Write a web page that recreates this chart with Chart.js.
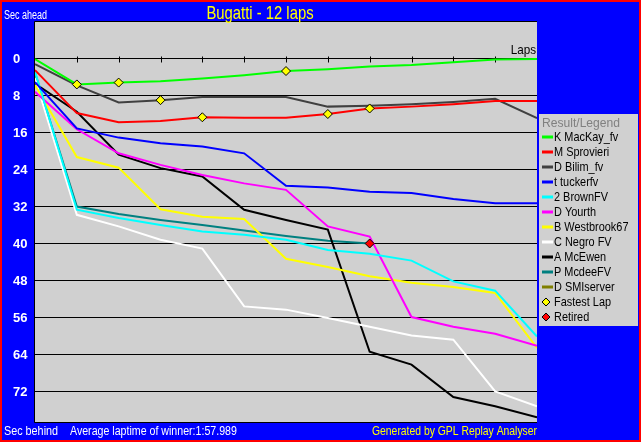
<!DOCTYPE html>
<html>
<head>
<meta charset="utf-8">
<script src="https://cdn.jsdelivr.net/npm/chart.js"></script>
<style>
html, body { margin: 0; padding: 0; background: #0000ff; }
canvas { display: block; }
</style>
</head>
<body>
<canvas id="grafico" width="641" height="442"></canvas>
<script>
// lap numbers on the x axis
const laps = [0, 1, 2, 3, 4, 5, 6, 7, 8, 9, 10, 11, 12];
const yTicks = [0, 8, 16, 24, 32, 40, 48, 56, 64, 72];

const drivers = ["K MacKay_fv", "M Sprovieri", "D Bilim_fv", "t tuckerfv", "2 BrownFV", "D Yourth",
                 "B Westbrook67", "C Negro FV", "A McEwen", "P McdeeFV", "D SMIserver"];
const colores = ["#00ff00", "#ff0000", "#404040", "#0000ff", "#00ffff", "#ff00ff",
                 "#ffff00", "#ffffff", "#000000", "#008080", "#808000"];

// seconds behind the leader, lap by lap
const mackay    = [0, 5.5, 5.1, 4.8, 4.2, 3.5, 2.6, 2.2, 1.6, 1.3, 0.7, 0.1, 0];
const sprovieri = [2.4, 11.7, 13.7, 13.4, 12.6, 12.7, 12.7, 11.9, 10.7, 10.3, 9.8, 9.1, 9.1];
const bilim     = [1.1, 5.7, 9.4, 8.9, 8.2, 8.2, 8.2, 10.3, 10.1, 9.8, 9.3, 8.6, 12.8];
const tucker    = [5.0, 15.0, 17.0, 18.2, 18.9, 20.4, 27.4, 27.8, 28.7, 29.0, 30.3, 31.2, 31.2];
const brown     = [2.7, 32.6, 34.4, 35.9, 37.3, 38.0, 39.1, 41.3, 42.1, 43.6, 48.1, 50.1, 60.0];
const yourth    = [7.1, 15.2, 20.4, 22.9, 25.1, 26.9, 28.3, 36.2, 38.4, 55.8, 57.9, 59.4, 62.0];
const westbrook = [5.6, 21.2, 23.5, 32.5, 34.1, 34.6, 43.2, 45.0, 47.0, 48.4, 49.3, 50.6, 62.5];
const negro     = [4.2, 33.7, 36.2, 39.1, 41.0, 53.5, 54.2, 56.0, 57.9, 59.8, 60.7, 71.9, 75.1];
const mcewen    = [5.3, 11.4, 20.7, 23.6, 25.4, 32.6, 34.8, 36.9, 63.3, 66.1, 73.1, 75.1, 77.5];
const mcdee     = [3.0, 31.9, 33.5, 34.8, 35.9, 37.1, 38.3, 39.3, 39.9];
const smiserver = [];

const fastestLaps  = [1, 2, 3, 4, 6, 7, 8];
const fastestTimes = [5.5, 5.1, 8.9, 12.6, 2.6, 11.9, 10.7];
const retiredLaps  = [8];
const retiredTimes = [39.9];

const series = [mackay, sprovieri, bilim, tucker, brown, yourth, westbrook, negro, mcewen, mcdee, smiserver];

const FAMILY = '"Liberation Sans", Arial, sans-serif';

const puntos = (xs, ys) => ys.map((v, i) => ({ x: xs[i], y: v }));

// text squeezed horizontally (the original uses a narrow bitmap font)
function texto(ctx, t, x, y, size, sx, align) {
    ctx.save();
    ctx.font = size + "px " + FAMILY;
    ctx.textBaseline = "middle";
    ctx.textAlign = align || "left";
    ctx.translate(x, y);
    ctx.scale(sx, 1);
    ctx.fillText(t, 0, 0);
    ctx.restore();
}

const datasets = [
    {
        label: "Fastest Lap", data: puntos(fastestLaps, fastestTimes), showLine: false,
        pointStyle: "rectRot", pointRadius: 4.5, backgroundColor: "#ffff00", borderColor: "#000000", pointBorderWidth: 1
    },
    {
        label: "Retired", data: puntos(retiredLaps, retiredTimes), showLine: false,
        pointStyle: "rectRot", pointRadius: 4.5, backgroundColor: "#ff0000", borderColor: "#000000", pointBorderWidth: 1
    }
];
drivers.forEach((d, i) => {
    datasets.push({
        label: d, data: puntos(laps, series[i]), borderColor: colores[i], borderWidth: 2,
        pointRadius: 0, fill: false, tension: 0
    });
});

const fondo = {
    id: "fondo",
    beforeDraw(chart) {
        const ctx = chart.ctx, a = chart.chartArea;
        ctx.save();
        ctx.fillStyle = "#ff0000";
        ctx.fillRect(0, 0, chart.width, chart.height);
        ctx.fillStyle = "#0000ff";
        ctx.fillRect(2, 2, chart.width - 4, chart.height - 4);
        ctx.fillStyle = "#d0d0d0";
        ctx.fillRect(a.left, a.top, a.right - a.left, a.bottom - a.top);
        ctx.restore();
    },
    beforeDatasetsDraw(chart) {
        const ctx = chart.ctx, a = chart.chartArea;
        const x = chart.scales.x, y = chart.scales.y;
        const y0 = Math.round(y.getPixelForValue(0)) + 0.5;
        ctx.save();
        ctx.strokeStyle = "#000000";
        ctx.lineWidth = 1;
        ctx.beginPath();
        laps.slice(1, -1).forEach(l => {
            const px = Math.round(x.getPixelForValue(l)) + 0.5;
            ctx.moveTo(px, y0 - 3);
            ctx.lineTo(px, y0 + 3);
        });
        ctx.stroke();
        ctx.fillStyle = "#000000";
        texto(ctx, "Laps", a.right - 1, y0 - 9, 13, 0.9, "right");
        ctx.restore();
    },
    afterDraw(chart) {
        const ctx = chart.ctx, a = chart.chartArea;
        ctx.save();
        // plot frame
        ctx.strokeStyle = "#000000";
        ctx.lineWidth = 1;
        ctx.beginPath();
        ctx.moveTo(a.right, a.top - 0.5);
        ctx.lineTo(a.left - 0.5, a.top - 0.5);
        ctx.lineTo(a.left - 0.5, a.bottom + 0.5);
        ctx.lineTo(a.right, a.bottom + 0.5);
        ctx.stroke();

        // texts
        ctx.fillStyle = "#ffff00";
        texto(ctx, "Bugatti - 12 laps", 260, 14, 19, 0.78, "center");
        ctx.fillStyle = "#ffffff";
        texto(ctx, "Sec ahead", 4, 16, 12, 0.75);
        texto(ctx, "Sec behind", 4, 432, 12, 0.9);
        texto(ctx, "Average laptime of winner:1:57.989", 70, 432, 12, 0.885);
        ctx.fillStyle = "#ffff00";
        texto(ctx, "Generated by GPL Replay Analyser", 372, 432, 12, 0.865);

        // legend
        ctx.fillStyle = "#d0d0d0";
        ctx.fillRect(539, 114, 99, 212);
        ctx.fillStyle = "#808080";
        texto(ctx, "Result/Legend", 542, 123, 13, 0.93);
        let yy = 137;
        drivers.forEach((d, i) => {
            ctx.strokeStyle = colores[i];
            ctx.lineWidth = 3;
            ctx.beginPath();
            ctx.moveTo(542, yy);
            ctx.lineTo(553, yy);
            ctx.stroke();
            ctx.fillStyle = "#000000";
            texto(ctx, d, 554, yy, 13, 0.84);
            yy += 15;
        });
        [["Fastest Lap", "#ffff00"], ["Retired", "#ff0000"]].forEach(([t, c]) => {
            ctx.fillStyle = c;
            ctx.strokeStyle = "#000000";
            ctx.lineWidth = 1;
            ctx.beginPath();
            ctx.moveTo(546, yy - 4);
            ctx.lineTo(550, yy);
            ctx.lineTo(546, yy + 4);
            ctx.lineTo(542, yy);
            ctx.closePath();
            ctx.fill();
            ctx.stroke();
            ctx.fillStyle = "#000000";
            texto(ctx, t, 554, yy, 13, 0.84);
            yy += 15;
        });
        ctx.restore();
    }
};

new Chart("grafico", {
    type: "line",
    data: { datasets: datasets },
    options: {
        responsive: false,
        animation: false,
        layout: { padding: { left: 13, top: 22, right: 104, bottom: 20 } },
        plugins: {
            legend: { display: false },
            tooltip: { enabled: false },
            title: { display: false }
        },
        scales: {
            x: { type: "linear", min: 0, max: 12, display: false },
            y: {
                min: -8, max: 78.5, reverse: true,
                afterFit(s) { s.width = 22; },
                afterBuildTicks(s) { s.ticks = yTicks.map(v => ({ value: v })); },
                border: { display: false },
                grid: { color: "#000000", lineWidth: 1, drawTicks: false },
                ticks: {
                    color: "#ffffff", crossAlign: "far", padding: 0,
                    font: { family: FAMILY, weight: "bold", size: 13 }
                }
            }
        }
    },
    plugins: [fondo]
});
</script>
</body>
</html>
